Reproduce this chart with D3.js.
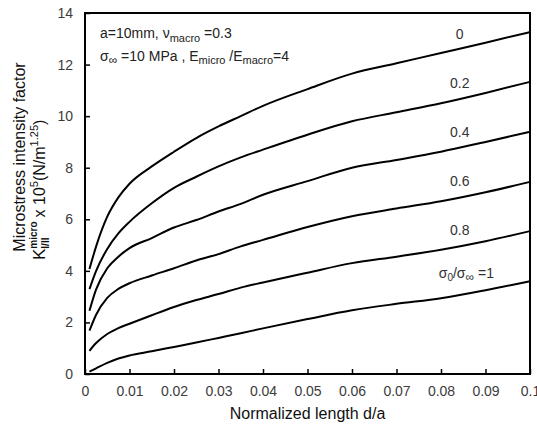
<!DOCTYPE html>
<html>
<head>
<meta charset="utf-8">
<script src="https://cdn.jsdelivr.net/npm/d3@7"></script>
<style>
  html, body { margin: 0; padding: 0; background: #fff; }
  svg { display: block; font-family: "Liberation Sans", Arial, sans-serif; }
</style>
</head>
<body>
<svg id="chart" width="537" height="432"></svg>
<script>
// Normalized length d/a sample points
const dA = [0.001, 0.0025, 0.005, 0.0075, 0.01, 0.015, 0.02, 0.025, 0.03, 0.035, 0.04, 0.05, 0.06, 0.07, 0.08, 0.09, 0.1];

// Stress ratio sigma0/sigma_inf for each curve
const ratios = ["0", "0.2", "0.4", "0.6", "0.8", "1"];

// K_I/II^micro x 10^5 (N/m^1.25) per stress ratio
const k_r0  = [4.07, 4.95, 6.1, 6.85, 7.38, 8.05, 8.62, 9.15, 9.6, 10.0, 10.4, 11.05, 11.65, 12.05, 12.45, 12.85, 13.26];
const k_r02 = [3.29, 4.0, 4.85, 5.45, 5.9, 6.62, 7.22, 7.65, 8.05, 8.4, 8.7, 9.28, 9.8, 10.15, 10.5, 10.9, 11.33];
const k_r04 = [2.45, 3.28, 4.1, 4.55, 4.88, 5.27, 5.68, 5.97, 6.3, 6.6, 6.95, 7.48, 8.0, 8.3, 8.62, 9.0, 9.39];
const k_r06 = [1.68, 2.3, 2.95, 3.3, 3.52, 3.82, 4.1, 4.4, 4.65, 4.95, 5.2, 5.7, 6.12, 6.42, 6.7, 7.05, 7.45];
const k_r08 = [0.9, 1.2, 1.55, 1.78, 1.95, 2.28, 2.6, 2.87, 3.1, 3.35, 3.55, 3.93, 4.3, 4.55, 4.82, 5.15, 5.54];
const k_r1  = [0.09, 0.22, 0.43, 0.6, 0.72, 0.88, 1.05, 1.22, 1.4, 1.58, 1.77, 2.13, 2.47, 2.72, 2.94, 3.25, 3.6];
const seriesValues = [k_r0, k_r02, k_r04, k_r06, k_r08, k_r1];

// Axis ticks
const xTicks = [0, 0.01, 0.02, 0.03, 0.04, 0.05, 0.06, 0.07, 0.08, 0.09, 0.1];
const xTickLabels = ["0", "0.01", "0.02", "0.03", "0.04", "0.05", "0.06", "0.07", "0.08", "0.09", "0.1"];
const yTicks = [0, 2, 4, 6, 8, 10, 12, 14];
const yTickLabels = ["0", "2", "4", "6", "8", "10", "12", "14"];

const svg = d3.select("#chart");
const plot = { left: 85, right: 530, top: 13, bottom: 374 };

const x = d3.scaleLinear().domain([0, 0.1]).range([plot.left, plot.right]);
const y = d3.scaleLinear().domain([0, 14]).range([plot.bottom, plot.top]);

const tickColor = "#3c3c3c";

// Bottom axis: inward ticks
const xAxis = d3.axisBottom(x)
  .tickValues(xTicks)
  .tickFormat((d, i) => xTickLabels[i])
  .tickSizeInner(-5).tickSizeOuter(0).tickPadding(12);
const gx = svg.append("g").attr("transform", `translate(0,${plot.bottom})`).call(xAxis);
gx.select(".domain").remove();
gx.selectAll(".tick line").attr("stroke", "#000").attr("stroke-width", 1.5);
gx.selectAll(".tick text").attr("font-size", 14).attr("fill", tickColor)
  .attr("font-family", "Liberation Sans, Arial, sans-serif");

// Left axis: inward ticks
const yAxis = d3.axisLeft(y)
  .tickValues(yTicks)
  .tickFormat((d, i) => yTickLabels[i])
  .tickSizeInner(-5).tickSizeOuter(0).tickPadding(12);
const gy = svg.append("g").attr("transform", `translate(${plot.left},0)`).call(yAxis);
gy.select(".domain").remove();
gy.selectAll(".tick line").attr("stroke", "#000").attr("stroke-width", 1.5);
gy.selectAll(".tick text").attr("font-size", 14).attr("fill", tickColor)
  .attr("font-family", "Liberation Sans, Arial, sans-serif");

// Plot frame
svg.append("rect")
  .attr("x", plot.left).attr("y", plot.top)
  .attr("width", plot.right - plot.left).attr("height", plot.bottom - plot.top)
  .attr("fill", "none").attr("stroke", "#000").attr("stroke-width", 2);

// Curves
const line = d3.line()
  .x((d, i) => x(dA[i]))
  .y(d => y(d))
  .curve(d3.curveMonotoneX);

svg.append("g").selectAll("path")
  .data(seriesValues)
  .join("path")
  .attr("d", line)
  .attr("fill", "none")
  .attr("stroke", "#000")
  .attr("stroke-width", 2);

// Rich text helper: segments of {t, s} where s is "sub", "sup" or undefined
function richText(parent, xPos, yPos, segments, opts) {
  const o = Object.assign({ size: 14, small: 10, fill: "#222", anchor: "start" }, opts || {});
  const t = parent.append("text")
    .attr("x", xPos).attr("y", yPos)
    .attr("font-size", o.size).attr("fill", o.fill)
    .attr("text-anchor", o.anchor);
  let shift = 0;
  segments.forEach(seg => {
    let target = 0;
    if (seg.s === "sub") target = o.subShift != null ? o.subShift : 4;
    if (seg.s === "sup") target = o.supShift != null ? o.supShift : -6;
    const ts = t.append("tspan")
      .attr("dy", target - shift)
      .attr("font-size", seg.s ? (seg.size || o.small) : o.size)
      .text(seg.t);
    if (seg.dx != null) ts.attr("dx", seg.dx);
    if (seg.bold) ts.attr("font-weight", "bold");
    shift = target;
  });
  return t;
}

// Parameter annotations
richText(svg, 100, 38, [
  { t: "a=10mm,  \u03BD" },
  { t: "macro", s: "sub" },
  { t: " =0.3" }
], { size: 14, small: 11 });

richText(svg, 100, 61, [
  { t: "\u03C3" },
  { t: "\u221E", s: "sub", size: 12 },
  { t: " =10 MPa , E" },
  { t: "micro", s: "sub" },
  { t: " /E" },
  { t: "macro", s: "sub" },
  { t: "=4" }
], { size: 14, small: 11, subShift: 3 });

// Curve labels
const labelAt = [
  { d: 0.0842, v: 13.0 },
  { d: 0.0842, v: 11.1 },
  { d: 0.0842, v: 9.18 },
  { d: 0.0842, v: 7.3 },
  { d: 0.0842, v: 5.38 }
];
labelAt.forEach((p, i) => {
  svg.append("text")
    .attr("x", x(p.d)).attr("y", y(p.v))
    .attr("text-anchor", "middle")
    .attr("font-size", 14).attr("fill", "#333")
    .text(ratios[i]);
});
richText(svg, x(0.0795), y(3.72), [
  { t: "\u03C3" },
  { t: "0", s: "sub" },
  { t: "/\u03C3" },
  { t: "\u221E", s: "sub", size: 12 },
  { t: " =" + ratios[5] }
], { size: 14, small: 10, fill: "#333", subShift: 3 });

// X axis title
svg.append("text")
  .attr("x", (plot.left + plot.right) / 2).attr("y", 419)
  .attr("text-anchor", "middle")
  .attr("font-size", 16).attr("fill", "#111")
  .text("Normalized length d/a");

// Y axis title, first line
svg.append("text")
  .attr("transform", "translate(25,157) rotate(-90)")
  .attr("text-anchor", "middle")
  .attr("font-size", 16).attr("fill", "#111")
  .text("Microstress intensity factor");

// Y axis title, second line: K with stacked sub/superscript and units
const g2 = svg.append("g").attr("transform", "translate(45,260) rotate(-90)");
let cx = 0;
function put(txt, size, dyv, weight) {
  const el = g2.append("text")
    .attr("x", cx).attr("y", dyv)
    .attr("font-size", size).attr("fill", "#111")
    .attr("font-weight", weight || "normal")
    .text(txt);
  return el.node().getComputedTextLength();
}
cx += put("K", 17, 0);
const wMicro = put("micro", 10, -8, "bold");
const wSub = put("I/II", 10, 4, "bold");
cx += Math.max(wMicro, wSub) + 4;
cx += put("x 10", 16, 0);
cx += put("5", 11, -7);
cx += put("(N/m", 16, 0);
cx += put("1.25", 11, -7);
cx += put(")", 16, 0);
</script>
</body>
</html>
